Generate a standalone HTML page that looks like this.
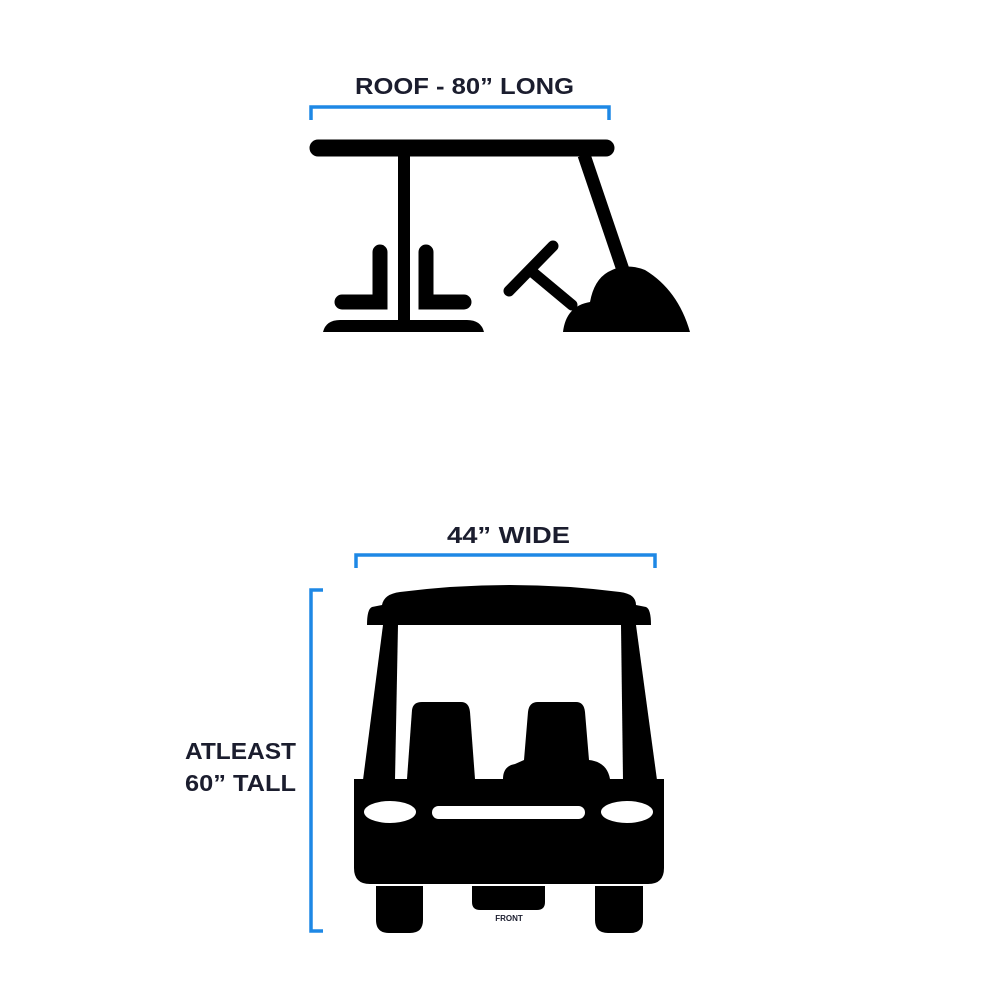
<!DOCTYPE html>
<html><head><meta charset="utf-8"><style>
html,body{margin:0;padding:0;background:#fff;}
svg{display:block;}
</style></head><body>
<svg width="1000" height="1000" viewBox="0 0 1000 1000" xmlns="http://www.w3.org/2000/svg">
<rect width="1000" height="1000" fill="#fff"/>
<g font-family="Liberation Sans, sans-serif" font-weight="bold" fill="#1b1d2e" font-size="23">
<text x="355" y="94" textLength="219" lengthAdjust="spacingAndGlyphs">ROOF - 80” LONG</text>
<text x="447" y="543" textLength="123" lengthAdjust="spacingAndGlyphs">44” WIDE</text>
<text x="185" y="759" textLength="111" lengthAdjust="spacingAndGlyphs">ATLEAST</text>
<text x="185" y="791" textLength="111" lengthAdjust="spacingAndGlyphs">60” TALL</text>
</g>
<g fill="none" stroke="#1e88e5" stroke-width="3.5">
<polyline points="311,120 311,107 609,107 609,120"/>
<polyline points="356,568 356,555 655,555 655,568"/>
<polyline points="323,590 311,590 311,931 323,931"/>
</g>
<!-- side cart -->
<g fill="#000" stroke="#000" stroke-linecap="round">
<line x1="318" y1="148" x2="606" y2="148" stroke-width="17"/>
<line x1="404" y1="150" x2="404" y2="330" stroke-width="12" stroke-linecap="butt"/>
<path d="M380 252 V302 H342" fill="none" stroke-width="15"/>
<path d="M426 252 V302 H464" fill="none" stroke-width="15"/>
<path d="M323 332 Q326 320 340 320 H467 Q481 320 484 332 Z" stroke="none"/>
<line x1="584" y1="155" x2="623" y2="270" stroke-width="13" stroke-linecap="butt"/>
<line x1="509" y1="291" x2="553" y2="246" stroke-width="11"/>
<line x1="530" y1="270" x2="572" y2="305" stroke-width="11"/>
<path d="M563 332 Q566 306 590 302 Q594 280 608 272 Q625 262 645 270 Q678 290 690 332 Z" stroke="none"/>
</g>
<!-- front cart -->
<g fill="#000">
<path d="M382 605 Q384 594 400 592 Q510 578 620 592 Q636 594 636 605 L646 607 Q651 609 651 625 L367 625 Q367 609 372 607 Z"/>
<path d="M383 625 L398 625 L395 780 L363 780 Z"/>
<path d="M621 625 L636 625 L657 780 L623 780 Z"/>
<path d="M407 779 L412 710 Q413 702 422 702 H461 Q469 702 470 712 L475 779 Z"/>
<path d="M503 779 Q503 766 515 764 L524 760 L528 712 Q529 702 538 702 H576 Q584 702 585 712 L589 760 Q607 762 610 779 Z"/>
<path d="M354 779 H664 V868 Q664 884 648 884 H370 Q354 884 354 868 Z"/>
<path d="M376 886 H423 V920 Q423 933 410 933 H389 Q376 933 376 920 Z"/>
<path d="M595 886 H643 V920 Q643 933 630 933 H608 Q595 933 595 920 Z"/>
<path d="M472 886 H545 V902 Q545 910 537 910 H480 Q472 910 472 902 Z"/>
</g>
<g fill="#fff">
<ellipse cx="390" cy="812" rx="26" ry="11"/>
<ellipse cx="627" cy="812" rx="26" ry="11"/>
<rect x="432" y="806" width="153" height="13" rx="6.5"/>
</g>
<text x="509" y="921" font-family="Liberation Sans, sans-serif" font-weight="bold" font-size="8" fill="#1b1d2e" text-anchor="middle">FRONT</text>
</svg>
</body></html>
